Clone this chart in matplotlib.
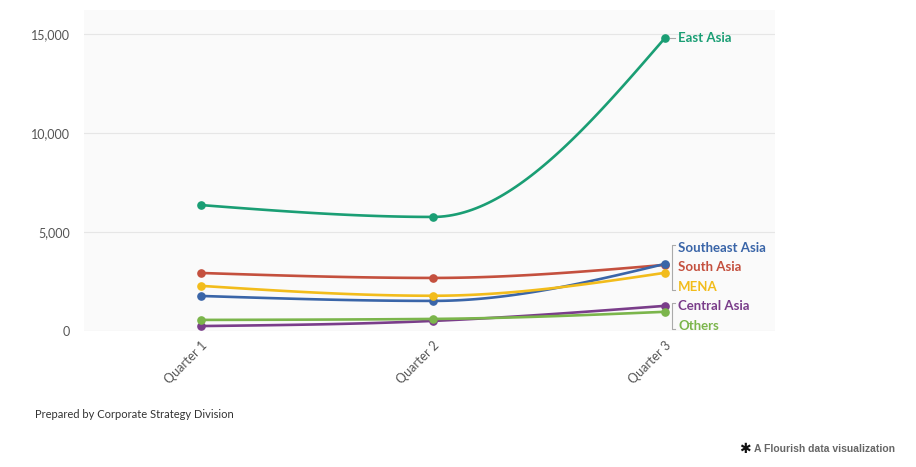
import numpy as np
import matplotlib
matplotlib.use("Agg")
import matplotlib.pyplot as plt
from matplotlib.ticker import FuncFormatter

plt.rcParams['font.family'] = ['Lato', 'DejaVu Sans']

quarters = ["Quarter 1", "Quarter 2", "Quarter 3"]
series_names = ["East Asia", "South Asia", "Southeast Asia", "MENA", "Central Asia", "Others"]
east_asia = [6360, 5760, 14800]
south_asia = [2930, 2680, 3340]
southeast_asia = [1770, 1520, 3390]
mena = [2280, 1780, 2940]
central_asia = [250, 510, 1270]
others = [560, 610, 970]
series_values = [east_asia, south_asia, southeast_asia, mena, central_asia, others]
colors = ["#1a9e74", "#c4503e", "#3a65a8", "#f2bc1b", "#7a3d8a", "#7bb54b"]

W, H = 916, 467
fig = plt.figure(figsize=(W / 100, H / 100), dpi=100)
fig.patch.set_facecolor("white")
ax = fig.add_axes([84 / W, (H - 331) / H, (775 - 84) / W, (331 - 10) / H])
ax.set_facecolor("#fafafa")


def monotone_curve(xs, ys, n=60):
    xs = np.asarray(xs, float)
    ys = np.asarray(ys, float)
    h = np.diff(xs)
    s = np.diff(ys) / h
    m = len(xs)
    t = np.zeros(m)
    for i in range(1, m - 1):
        s0, s1 = s[i - 1], s[i]
        p = (s0 * h[i] + s1 * h[i - 1]) / (h[i - 1] + h[i])
        t[i] = (np.sign(s0) + np.sign(s1)) * min(abs(s0), abs(s1), 0.5 * abs(p))
    t[0] = (3 * s[0] - t[1]) / 2
    t[-1] = (3 * s[-1] - t[-2]) / 2
    X, Y = [], []
    u = np.linspace(0, 1, n)
    for i in range(m - 1):
        dx = h[i] / 3
        P0 = (xs[i], ys[i])
        P1 = (xs[i] + dx, ys[i] + dx * t[i])
        P2 = (xs[i + 1] - dx, ys[i + 1] - dx * t[i + 1])
        P3 = (xs[i + 1], ys[i + 1])
        bx = (1 - u) ** 3 * P0[0] + 3 * (1 - u) ** 2 * u * P1[0] + 3 * (1 - u) * u ** 2 * P2[0] + u ** 3 * P3[0]
        by = (1 - u) ** 3 * P0[1] + 3 * (1 - u) ** 2 * u * P1[1] + 3 * (1 - u) * u ** 2 * P2[1] + u ** 3 * P3[1]
        X.extend(bx)
        Y.extend(by)
    return np.array(X), np.array(Y)


x = np.arange(len(quarters))
for name, vals, c in zip(series_names, series_values, colors):
    cx, cy = monotone_curve(x, vals)
    ax.plot(cx, cy, color=c, lw=1.9, solid_capstyle="round", zorder=3)
    ax.plot(x, vals, "o", color=c, ms=5.2, zorder=4)

ymax = 16210
ax.set_xlim(-0.504, 2.474)
ax.set_ylim(0, ymax)
ax.set_yticks([0, 5000, 10000, 15000])
ax.yaxis.set_major_formatter(FuncFormatter(lambda v, p: f"{int(v):,}"))
ax.grid(axis="y", color="#e6e6e6", lw=0.8)
ax.set_axisbelow(True)
for sp in ax.spines.values():
    sp.set_visible(False)
ax.tick_params(axis="y", length=0, pad=10, labelsize=9, labelcolor="#555555")
ax.tick_params(axis="x", length=0, pad=6, labelsize=9, labelcolor="#555555")
ax.set_xticks(x)
ax.set_xticklabels(quarters, rotation=45, ha="right", va="top", rotation_mode="anchor")

# label placement with collision avoidance (in data units)
px_per_unit = (331 - 34) / 15000
spacing = 19.5 / px_per_unit
last = [v[-1] for v in series_values]
order = sorted(range(len(last)), key=lambda i: -last[i])
clusters = []
for i in order:
    if clusters and (last[clusters[-1][-1]] - last[i]) < spacing:
        clusters[-1].append(i)
    else:
        clusters.append([i])
pos = {}
for cl in clusters:
    mean = np.mean([last[i] for i in cl])
    k = len(cl)
    for j, i in enumerate(cl):
        pos[i] = mean + (k - 1) / 2 * spacing - j * spacing
prev = None
for i in order:
    if prev is not None and pos[prev] - pos[i] < spacing:
        pos[i] = pos[prev] - spacing
    prev = i

xl = 2 + 13 / 232
xb = 2 + 7 / 232
for i in order:
    ax.text(xl, pos[i], series_names[i], color=colors[i], fontsize=9.5, fontweight="bold",
            va="center", ha="left", clip_on=False)
for cl in clusters:
    if len(cl) == 1:
        i = cl[0]
        ax.plot([2 + 5 / 232, 2 + 10 / 232], [last[i], last[i]], color="#aaaaaa", lw=0.8, clip_on=False)
    else:
        ys = [pos[i] for i in cl]
        top, bot = max(ys) + 150, min(ys) - 150
        ax.plot([xb + 3 / 232, xb, xb, xb + 3 / 232], [top, top, bot, bot], color="#aaaaaa", lw=0.8,
                clip_on=False)

fig.text(35 / W, 1 - 415 / H, "Prepared by Corporate Strategy Division", fontsize=8, color="#333333",
         va="center", ha="left")
fig.text(751 / W, 1 - 449 / H, "\u2731", fontsize=10, color="#111111",
         va="center", ha="right", fontweight="bold", family=["DejaVu Sans"])
fig.text(895 / W, 1 - 449 / H, "A Flourish data visualization", fontsize=7.5, color="#666666",
         va="center", ha="right", fontweight="bold", family=["Liberation Sans", "DejaVu Sans"])

fig.savefig("out.png", dpi=100)
